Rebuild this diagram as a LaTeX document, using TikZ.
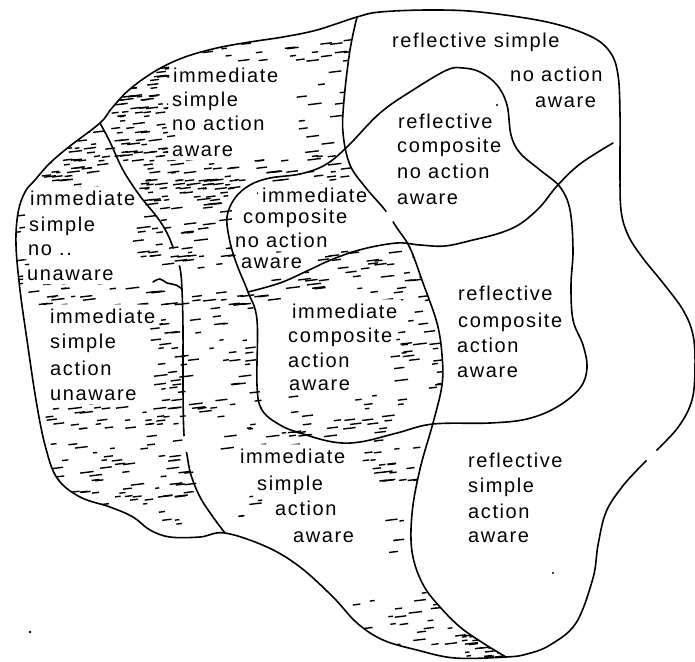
\documentclass[tikz,border=0pt]{standalone}
\usepackage{fontspec}
\usetikzlibrary{calc}
\newfontfamily\lblfont[LetterSpace=8]{Liberation Sans}

% immediate/reflective divider points (x to the right, y downwards, in pt)
\newcommand\divcoords{(357,17) (350,50) (344,100) (343,133) (350,165) (366,188) (385,210) (397,228) (410,248) (423,283) (437,323) (442,355) (442,385) (433,423) (421,465) (413,505) (411,540) (415,565) (425,588) (440,607) (460,627) (483,643) (506,657)}

% scattered short horizontal strokes inside a box: x1 y1 x2 y2 count
\newcommand\hatchbox[5]{%
  \foreach \k in {1,...,#5}{%
    \pgfmathsetmacro\hx{#1+rnd*(#3-#1)}%
    \pgfmathsetmacro\hy{4*round((#2+rnd*(#4-#2))/4)+rnd*1.2}%
    \pgfmathsetmacro\hl{4+rnd*10}%
    \draw[hatchline] (\hx,\hy) -- ++(\hl,-0.12*\hl);%
  }}

\begin{document}
\begin{tikzpicture}[x=1pt,y=-1pt,
  outline/.style={line width=1.6pt, line join=round, line cap=round},
  hatchline/.style={line width=1.4pt},
  lbl/.style={font=\lblfont\fontsize{20}{24}\selectfont, inner sep=1pt, anchor=base west}]

\fill[white] (0,0) rectangle (695,661);
\useasboundingbox (0,0) rectangle (695,661);

% ---------- region labels ----------
% immediate simple no action aware
\node[lbl] (isna1) at (172,82) {immediate};
\node[lbl] (isna2) at (171,106) {simple};
\node[lbl] (isna3) at (171,130) {no action};
\node[lbl] (isna4) at (171,156) {aware};
% immediate simple no action unaware
\node[lbl] (isnu1) at (29,205) {immediate};
\node[lbl] (isnu2) at (28,231) {simple};
\node[lbl] (isnu3) at (27,255) {no ..};
\node[lbl] (isnu4) at (26,280) {unaware};
% immediate simple action unaware
\node[lbl] (isau1) at (49,323) {immediate};
\node[lbl] (isau2) at (49,348) {simple};
\node[lbl] (isau3) at (49,375) {action};
\node[lbl] (isau4) at (49,400) {unaware};
% immediate composite no action aware
\node[lbl] (icna1) at (261,202) {immediate};
\node[lbl] (icna2) at (242,223) {composite};
\node[lbl] (icna3) at (234,247) {no action};
\node[lbl] (icna4) at (240,268) {aware};
% immediate composite action aware
\node[lbl] (icaa1) at (291,318) {immediate};
\node[lbl] (icaa2) at (287,342) {composite};
\node[lbl] (icaa3) at (287,367) {action};
\node[lbl] (icaa4) at (288,390) {aware};
% immediate simple action aware
\node[lbl] (isaa1) at (239,463) {immediate};
\node[lbl] (isaa2) at (256,490) {simple};
\node[lbl] (isaa3) at (274,515) {action};
\node[lbl] (isaa4) at (292,542) {aware};
% reflective simple no action aware
\node[lbl] (rsna1) at (391,48) {reflective simple};
\node[lbl] (rsna2) at (509,81) {no action};
\node[lbl] (rsna3) at (534,107) {aware};
% reflective composite no action aware
\node[lbl] (rcna1) at (397,128) {reflective};
\node[lbl] (rcna2) at (396,152) {composite};
\node[lbl] (rcna3) at (396,178) {no action};
\node[lbl] (rcna4) at (396,204) {aware};
% reflective composite action aware
\node[lbl] (rcaa1) at (457,300) {reflective};
\node[lbl] (rcaa2) at (457,327) {composite};
\node[lbl] (rcaa3) at (456,352) {action};
\node[lbl] (rcaa4) at (456,377) {aware};
% reflective simple action aware
\node[lbl] (rsaa1) at (467,467) {reflective};
\node[lbl] (rsaa2) at (467,492) {simple};
\node[lbl] (rsaa3) at (467,518) {action};
\node[lbl] (rsaa4) at (467,542) {aware};

% ---------- outlines ----------
\path[save path=\outerpath] plot[smooth cycle, tension=0.6] coordinates {(357,17) (380,12) (430,10) (480,12) (547,22) (590,36) (610,52) (618,75) (620,115) (620,170) (621,210) (628,235) (642,257) (663,283) (683,310) (693,335) (695,367) (692,400) (679,426) (658,449) (640,467) (622,487) (606,512) (598,545) (593,578) (576,623) (550,645) (527,654) (506,657) (455,658) (417,650) (383,640) (357,623) (333,597) (300,567) (267,547) (225,533) (200,537) (170,537) (150,530) (133,517) (110,507) (80,497) (57,478) (45,445) (36,400) (27,340) (20,290) (16,245) (18,213) (25,192) (35,180) (50,163) (70,146) (100,123) (112,108) (130,89) (157,70) (185,57) (217,48) (250,42) (283,37) (317,30)};
\draw[outline, use path=\outerpath];

% immediate / reflective
\edef\divline{\noexpand\draw[outline] plot[smooth, tension=0.6] coordinates {\divcoords};}
\divline

% aware / unaware
\draw[outline] plot[smooth, tension=0.6] coordinates {(100,123) (110,142) (123,170) (140,196) (157,217) (167,233) (174,250) (180,268) (182,290) (183,330) (183,390) (184,435) (187,455) (191,475) (200,497) (213,517) (225,533)};
\draw[outline] plot[smooth, tension=0.6] coordinates {(153,282) (160,279) (167,283) (176,285) (182,289)};

% composite region
\draw[outline] plot[smooth cycle, tension=0.6] coordinates {(227,217) (235,198) (250,185) (270,178) (300,174) (325,165) (347,147) (380,113) (413,90) (447,70) (463,68) (480,72) (497,85) (507,105) (511,135) (520,153) (540,170) (560,187) (570,210) (573,250) (571,285) (573,320) (583,345) (587,368) (580,388) (557,407) (527,419) (490,423) (433,424) (397,433) (360,442) (333,442) (300,433) (280,425) (262,410) (257,385) (257,320) (248,292) (237,265) (230,242)};

% no action / action
\draw[outline] plot[smooth, tension=0.6] coordinates {(248,292) (280,283) (307,271) (333,259) (363,249) (397,243) (420,245) (445,246) (473,240) (500,233) (520,224) (540,207) (557,186) (580,164) (613,143)};

% breaks in the pen strokes
\fill[white] (652,456) circle[radius=7pt];
\fill[white] (389,217) circle[radius=6pt];
\fill[white] (176,257) circle[radius=9pt];
\fill[white] (185,444) circle[radius=8pt];

% stray specks
\fill (30,632) circle[radius=1.3pt];
\fill (553,573) circle[radius=1.2pt];
\fill (497,105) circle[radius=1.2pt];

% ---------- hatching of the immediate side ----------
\begin{scope}
  \clip[use path=\outerpath];
  \edef\leftside{\noexpand\clip (357,-20) -- plot[smooth, tension=0.6] coordinates {\divcoords} -- (506,690) -- (-20,690) -- (-20,-20) -- cycle;}
  \leftside
  \begin{scope}[even odd rule]
  \clip (-20,-20) rectangle (720,690)
    \foreach \n in {isna1,isna2,isna3,isna4,isnu1,isnu2,isnu3,isnu4,isau1,isau2,isau3,isau4,icna1,icna2,icna3,icna4,icaa1,icaa2,icaa3,icaa4,isaa1,isaa2,isaa3,isaa4}
      {($(\n.south west)+(-3,3)$) rectangle ($(\n.north east)+(3,-3)$)};
  \pgfmathsetseed{1979}
  \hatchbox{108}{62}{172}{168}{90}
  \hatchbox{170}{40}{345}{68}{25}
  \hatchbox{120}{158}{345}{192}{55}
  \hatchbox{30}{128}{110}{190}{50}
  \hatchbox{130}{178}{240}{270}{80}
  \hatchbox{295}{62}{340}{160}{15}
  \hatchbox{14}{195}{26}{290}{8}
  \hatchbox{25}{283}{155}{306}{25}
  \hatchbox{150}{300}{182}{425}{35}
  \hatchbox{45}{405}{185}{525}{100}
  \hatchbox{188}{290}{255}{430}{45}
  \hatchbox{250}{250}{440}{305}{60}
  \hatchbox{380}{300}{440}{420}{30}
  \hatchbox{285}{390}{380}{435}{20}
  \hatchbox{220}{428}{310}{452}{12}
  \hatchbox{362}{440}{420}{482}{22}
  \hatchbox{235}{495}{270}{525}{5}
  \hatchbox{350}{590}{505}{658}{45}
  \hatchbox{460}{630}{505}{658}{20}
  \hatchbox{380}{500}{400}{560}{5}
  \end{scope}
\end{scope}

\end{tikzpicture}
\end{document}
